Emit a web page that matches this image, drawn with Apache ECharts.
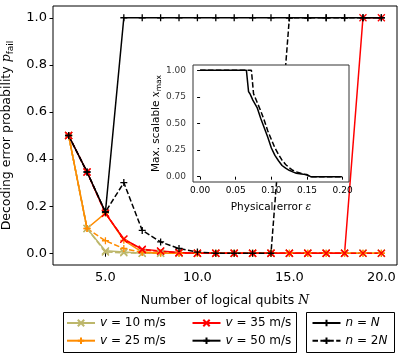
<!DOCTYPE html>
<html><head><meta charset="utf-8">
<script src="https://cdn.jsdelivr.net/npm/echarts@6/dist/echarts.min.js"></script>
<style>html,body{margin:0;padding:0;background:#fff}#c{width:407px;height:359px}</style>
</head><body><div id="c"></div>
<script>
// ---- data ----
const qubitsN = [3,4,5,6,7,8,9,10,11,12,13,14,15,16,17,18,19,20];
const v10_N  = [0.5,0.105,0.01,0.005,0,0,0,0,0,0,0,0,0,0,0,0,0,0];
const v10_2N = [0.5,0.105,0.005,0.002,0,0,0,0,0,0,0,0,0,0,0,0,0,0];
const v25_N  = [0.5,0.105,0.17,0.055,0.005,0.001,0,0,0,0,0,0,0,0,0,0,0,0];
const v25_2N = [0.5,0.105,0.053,0.02,0.003,0,0,0,0,0,0,0,0,0,0,0,0,0];
const v35_N  = [0.5,0.345,0.17,0.06,0.017,0.01,0.003,0,0,0,0,0,0,0,0,0,1,1];
const v35_2N = [0.5,0.345,0.17,0.06,0.015,0.008,0.002,0,0,0,0,0,0,0,0,0,0,0];
const v50_N  = [0.5,0.345,0.175,1,1,1,1,1,1,1,1,1,1,1,1,1,1,1];
const v50_2N = [0.5,0.345,0.175,0.3,0.097,0.048,0.02,0.005,0,0,0,0,1,1,1,1,1,1];
const xTicks = [5,10,15,20];
const yTicks = [0,0.2,0.4,0.6,0.8,1.0];

// inset
const eps = [0,0.065,0.066,0.068,0.07,0.072,0.074,0.075,0.08,0.085,0.09,0.095,0.1,0.105,0.11,0.115,0.12,0.125,0.13,0.135,0.14,0.145,0.15,0.155,0.16,0.17,0.18,0.19,0.199];
const xmax_N  = [1,1,1,0.8,0.78,0.75,0.72,0.71,0.65,0.55,0.46,0.37,0.27,0.2,0.15,0.105,0.08,0.06,0.045,0.033,0.028,0.022,0.02,0,0,0,0,0,0];
const xmax_2N = [1,1,1,1,1,1,1,0.78,0.70,0.62,0.53,0.43,0.35,0.27,0.21,0.155,0.115,0.085,0.06,0.045,0.035,0.025,0.015,0,0,0,0,0,0];
const insetXTicks = [0,0.05,0.1,0.15,0.2];
const insetYTicks = [0,0.25,0.5,0.75,1.0];

// ---- helpers ----
const X_PATH = 'path://M0,0L10,10M10,0L0,10';
const PLUS_PATH = 'path://M5,0L5,10M0,5L10,5';
const C = {v10:'#bdb76b', v25:'#ff8c00', v35:'#ff0000', v50:'#000000'};
const DASH = [5.5,2.4];
const pairs = (xs, ys) => xs.map((x,i)=>[x, ys[i]]);

function mainSeries(name, color, ys, dashed, sym) {
  return {
    type:'line', name, xAxisIndex:0, yAxisIndex:0, data: pairs(qubitsN, ys),
    symbol: sym, symbolSize: 7, showSymbol:true, animation:false, z:2,
    lineStyle:{color, width:1.5, type: dashed ? DASH : 'solid'},
    itemStyle:{color, borderColor:color, borderWidth:1.3},
    emphasis:{disabled:true}
  };
}
const FONT = 'DejaVu Sans';
const legendNames = {
  v10:'{i|v} = 10 m/s', v25:'{i|v} = 25 m/s', v35:'{i|v} = 35 m/s', v50:'{i|v} = 50 m/s',
  nN:'{i|n} = {i|N}', n2N:'{i|n} = 2{i|N}'
};
const legendBase = (data, left) => ({
  data, left, top: 316, orient:'vertical', itemWidth:28, itemHeight:8, itemGap:3.7, padding:0,
  selectedMode:false,
  formatter: n => legendNames[n],
  textStyle:{fontFamily:FONT, fontSize:12, color:'#000', lineHeight:14,
    rich:{i:{fontFamily:FONT, fontStyle:'italic', fontSize:12, lineHeight:14}}}
});
const IN = {left:193, top:65, width:156, height:117};

const chart = echarts.init(document.getElementById('c'), null, {renderer:'canvas'});
chart.setOption({
  animation:false,
  backgroundColor:'#fff',
  grid:[
    {left:53, top:6, width:344, height:259, outerBoundsMode:'none', containLabel:false,
     show:true, borderColor:'#000', borderWidth:1, backgroundColor:'transparent'},
    Object.assign({outerBoundsMode:'none', containLabel:false,
     show:true, borderColor:'#333', borderWidth:1, backgroundColor:'#fff', z:10}, IN)
  ],
  xAxis:[
    {type:'value', gridIndex:0, min:2.15, max:20.85,
     axisLine:{show:false}, splitLine:{show:false},
     axisTick:{show:true, customValues:xTicks, length:3.5, inside:false, lineStyle:{color:'#000'}},
     axisLabel:{customValues:xTicks, formatter:v=>v.toFixed(1), fontFamily:FONT, fontSize:13, color:'#000', margin:6},
     name:'Number of logical qubits {i|N}', nameLocation:'middle', nameGap:29,
     nameTextStyle:{fontFamily:FONT, fontSize:12.5, color:'#000',
       rich:{i:{fontFamily:'DejaVu Serif', fontStyle:'italic', fontSize:12.5}}}},
    {type:'value', gridIndex:1, min:-0.00995, max:0.20895, z:12,
     axisLine:{show:false}, splitLine:{show:false},
     axisTick:{show:true, customValues:insetXTicks, length:3, lineStyle:{color:'#000'}},
     axisLabel:{customValues:insetXTicks, formatter:v=>v.toFixed(2), fontFamily:FONT, fontSize:9, color:'#000', margin:4},
     name:'Physical error {i|ε}', nameLocation:'middle', nameGap:20,
     nameTextStyle:{fontFamily:FONT, fontSize:10.5, color:'#000',
       rich:{i:{fontFamily:'DejaVu Serif', fontStyle:'italic', fontSize:10.5}}}}
  ],
  yAxis:[
    {type:'value', gridIndex:0, min:-0.05, max:1.05,
     axisLine:{show:false}, splitLine:{show:false},
     axisTick:{show:true, customValues:yTicks, length:3.5, lineStyle:{color:'#000'}},
     axisLabel:{customValues:yTicks, formatter:v=>v.toFixed(1), fontFamily:FONT, fontSize:13, color:'#000', margin:6},
     name:'Decoding error probability {i|p}{s|fail}', nameLocation:'middle', nameGap:31,
     nameTextStyle:{fontFamily:FONT, fontSize:12.5, color:'#000', lineHeight:17,
       rich:{i:{fontFamily:'DejaVu Serif', fontStyle:'italic', fontSize:12.5, lineHeight:17},
             s:{fontFamily:FONT, fontSize:9, verticalAlign:'bottom', lineHeight:9}}}},
    // inset y axis: ticks and title; its tick labels are placed by the label series below
    {type:'value', gridIndex:1, position:'left', min:-0.05, max:1.05, z:12,
     axisLine:{show:false}, splitLine:{show:false},
     axisTick:{show:true, customValues:insetYTicks, length:3, lineStyle:{color:'#000'}},
     axisLabel:{show:false},
     name:'Max. scalable {i|x}{s|max}', nameLocation:'middle', nameGap:30,
     nameTextStyle:{fontFamily:FONT, fontSize:10.5, color:'#000', lineHeight:14,
       rich:{i:{fontFamily:'DejaVu Serif', fontStyle:'italic', fontSize:10.5, lineHeight:14},
             s:{fontFamily:FONT, fontSize:7.5, verticalAlign:'bottom', lineHeight:7.5}}}}
  ],
  legend:[
    legendBase(['v10','v25'], 66),
    legendBase(['v35','v50'], 191.5),
    legendBase(['nN','n2N'], 311.5)
  ],
  graphic:[
    {type:'rect', shape:{x:63.5, y:312.5, width:233, height:40}, style:{fill:'none', stroke:'#000', lineWidth:1}, z:100},
    {type:'rect', shape:{x:306.5, y:312.5, width:88, height:40}, style:{fill:'none', stroke:'#000', lineWidth:1}, z:100}
  ],
  series:[
    mainSeries('v10', C.v10, v10_N, false, X_PATH),
    mainSeries('v10_2N', C.v10, v10_2N, true, X_PATH),
    mainSeries('v25', C.v25, v25_N, false, PLUS_PATH),
    mainSeries('v25_2N', C.v25, v25_2N, true, PLUS_PATH),
    mainSeries('v35', C.v35, v35_N, false, X_PATH),
    mainSeries('v35_2N', C.v35, v35_2N, true, X_PATH),
    mainSeries('v50', C.v50, v50_N, false, PLUS_PATH),
    mainSeries('v50_2N', C.v50, v50_2N, true, PLUS_PATH),
    {type:'line', name:'nN', data:[], symbol:PLUS_PATH, symbolSize:7,
     lineStyle:{color:'#000', width:1.5}, itemStyle:{color:'#000', borderColor:'#000', borderWidth:1.3}},
    {type:'line', name:'n2N', data:[], symbol:PLUS_PATH, symbolSize:7,
     lineStyle:{color:'#000', width:1.5, type:DASH}, itemStyle:{color:'#000', borderColor:'#000', borderWidth:1.3}},
    {type:'line', name:'inset_N', xAxisIndex:1, yAxisIndex:1, data:pairs(eps, xmax_N), showSymbol:false, symbol:'none', z:12,
     lineStyle:{color:'#000', width:1.5}, emphasis:{disabled:true}},
    {type:'line', name:'inset_2N', xAxisIndex:1, yAxisIndex:1, data:pairs(eps, xmax_2N), showSymbol:false, symbol:'none', z:12,
     lineStyle:{color:'#000', width:1.5, type:DASH}, emphasis:{disabled:true}},
    // inset y tick labels, positioned by the inset axes at the left edge (x = axis min)
    {type:'scatter', name:'inset_ylabels', xAxisIndex:1, yAxisIndex:1, z:13, silent:true,
     data: insetYTicks.map(v => [-0.00995, v]),
     symbol:'circle', symbolSize:0, itemStyle:{color:'transparent'},
     label:{show:true, position:'left', distance:7, formatter:p => p.value[1].toFixed(2),
       fontFamily:FONT, fontSize:9, color:'#000'},
     emphasis:{disabled:true}, tooltip:{show:false}}
  ]
});
</script>
</body></html>
